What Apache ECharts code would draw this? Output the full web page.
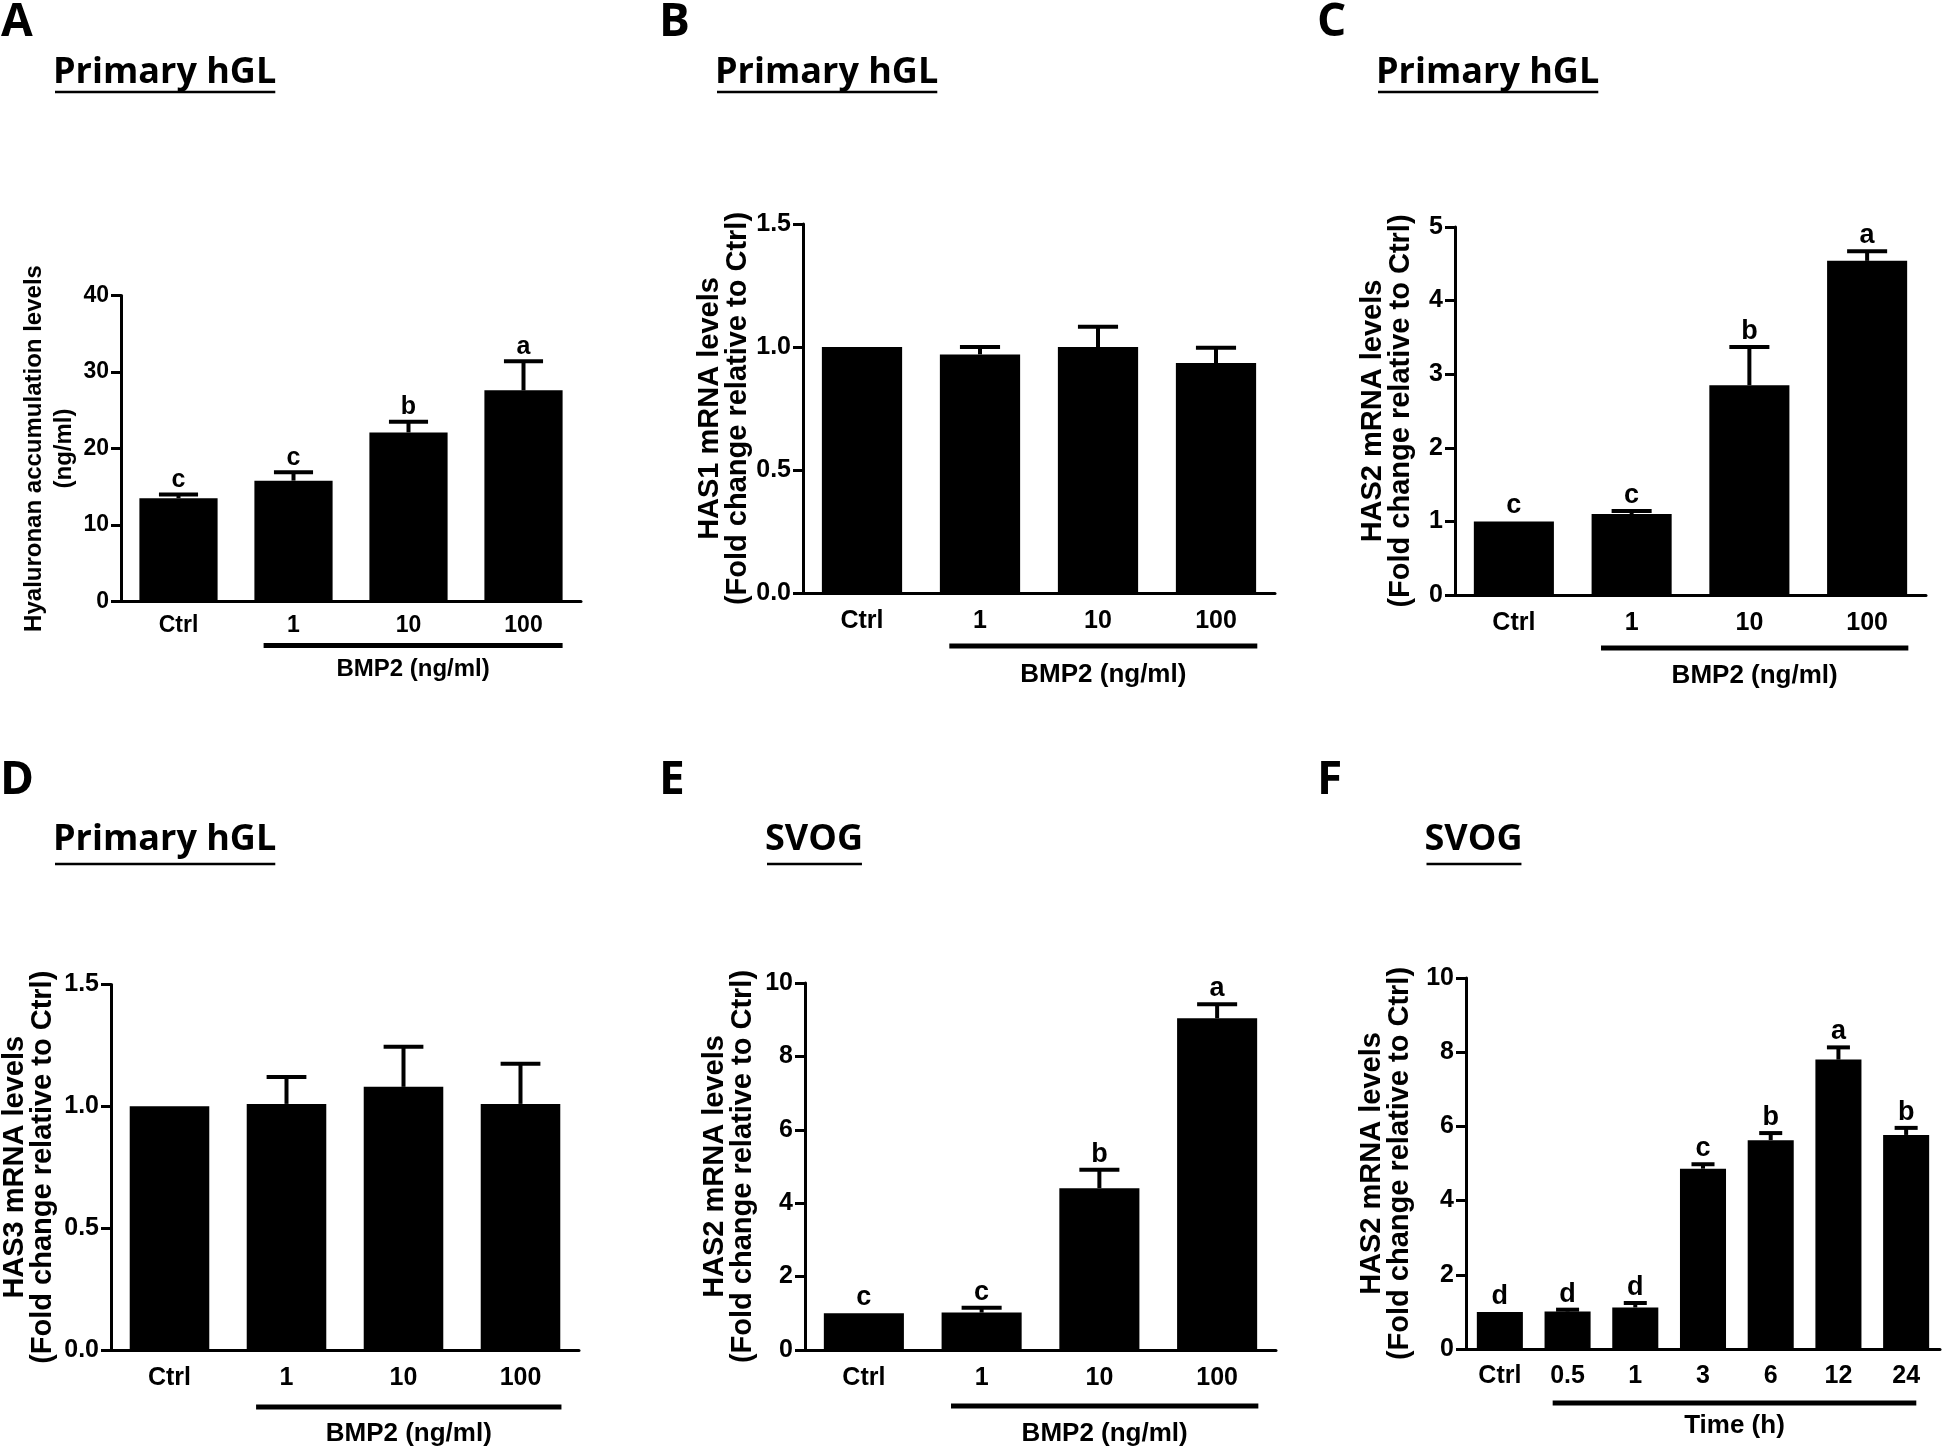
<!DOCTYPE html>
<html>
<head>
<meta charset="utf-8">
<script src="https://cdn.jsdelivr.net/npm/echarts@6/dist/echarts.min.js"></script>
<style>
html, body { margin: 0; padding: 0; background: #fff; }
#chart { width: 1944px; height: 1453px; }
</style>
</head>
<body>
<div id="chart"></div>
<script>
// categories
var bmpCats = ['Ctrl', '1', '10', '100'];
var timeCats = ['Ctrl', '0.5', '1', '3', '6', '12', '24'];

// A: hyaluronan accumulation (ng/ml)
var hyaMean = [13.5, 15.8, 22.1, 27.6];
var hyaSem = [0.5, 1.1, 1.4, 3.8];
var hyaLetters = ['c', 'c', 'b', 'a'];

// B: HAS1 mRNA
var has1Mean = [1.0, 0.97, 1.0, 0.935];
var has1Sem = [0, 0.03, 0.082, 0.062];

// C: HAS2 mRNA (hGL)
var has2Mean = [1.0, 1.10, 2.85, 4.54];
var has2Sem = [0, 0.04, 0.52, 0.13];
var has2Letters = ['c', 'c', 'b', 'a'];

// D: HAS3 mRNA
var has3Mean = [1.0, 1.01, 1.08, 1.01];
var has3Sem = [0, 0.11, 0.165, 0.165];

// E: HAS2 mRNA (SVOG, dose)
var svogDoseMean = [1.0, 1.02, 4.41, 9.04];
var svogDoseSem = [0, 0.13, 0.5, 0.38];
var svogDoseLetters = ['c', 'c', 'b', 'a'];

// F: HAS2 mRNA (SVOG, time)
var svogTimeMean = [1.0, 1.01, 1.12, 4.86, 5.63, 7.80, 5.77];
var svogTimeSem = [0, 0.05, 0.12, 0.12, 0.19, 0.33, 0.19];
var svogTimeLetters = ['d', 'd', 'd', 'c', 'b', 'a', 'b'];

var tickFont = 'Liberation Sans';
var nameFont = 'Liberation Sans';
var titleFont = 'Open Sans';

var panels = [
	{ letter: 'A', title: 'Primary hGL', cats: bmpCats, mean: hyaMean, sem: hyaSem, marks: hyaLetters,
	  max: 40, step: 10, dec: 0, grid: { left: 121, top: 295.5, width: 460, height: 306 },
	  yName: 'Hyaluronan accumulation levels\n(ng/ml)', nameSize: 24, lineH: 30, nameGap: 40,
	  fs: 23, labelGap: 13, row: 0, letterX: 1, titleX: 53, group: 'BMP2 (ng/ml)', barFrom: -0.26, barTo: 0.34, barDy: 44, groupDy: 24 },
	{ letter: 'B', title: 'Primary hGL', cats: bmpCats, mean: has1Mean, sem: has1Sem, marks: null,
	  max: 1.5, step: 0.5, dec: 1, grid: { left: 803, top: 224, width: 472, height: 369 },
	  yName: 'HAS1 mRNA levels\n(Fold change relative to Ctrl)', nameSize: 29, lineH: 28, nameGap: 48,
	  fs: 25, labelGap: 16, row: 0, letterX: 659, titleX: 715, group: 'BMP2 (ng/ml)', barFrom: -0.26, barTo: 0.35, barDy: 53, groupDy: 29 },
	{ letter: 'C', title: 'Primary hGL', cats: bmpCats, mean: has2Mean, sem: has2Sem, marks: has2Letters,
	  max: 5, step: 1, dec: 0, grid: { left: 1455, top: 227, width: 471, height: 368 },
	  yName: 'HAS2 mRNA levels\n(Fold change relative to Ctrl)', nameSize: 29, lineH: 28, nameGap: 40,
	  fs: 25, labelGap: 16, row: 0, letterX: 1317, titleX: 1376, group: 'BMP2 (ng/ml)', barFrom: -0.26, barTo: 0.35, barDy: 53, groupDy: 28 },
	{ letter: 'D', title: 'Primary hGL', cats: bmpCats, mean: has3Mean, sem: has3Sem, marks: null,
	  max: 1.5, step: 0.5, dec: 1, grid: { left: 111, top: 984.5, width: 468, height: 365.5 },
	  yName: 'HAS3 mRNA levels\n(Fold change relative to Ctrl)', nameSize: 29, lineH: 28, nameGap: 54,
	  fs: 25, labelGap: 16, row: 1, letterX: 0, titleX: 53, group: 'BMP2 (ng/ml)', barFrom: -0.26, barTo: 0.35, barDy: 57, groupDy: 27 },
	{ letter: 'E', title: 'SVOG', cats: bmpCats, mean: svogDoseMean, sem: svogDoseSem, marks: svogDoseLetters,
	  max: 10, step: 2, dec: 0, grid: { left: 805, top: 983, width: 471, height: 367 },
	  yName: 'HAS2 mRNA levels\n(Fold change relative to Ctrl)', nameSize: 29, lineH: 28, nameGap: 48,
	  fs: 25, labelGap: 16, row: 1, letterX: 659, titleX: 765, group: 'BMP2 (ng/ml)', barFrom: -0.26, barTo: 0.35, barDy: 56, groupDy: 28 },
	{ letter: 'F', title: 'SVOG', cats: timeCats, mean: svogTimeMean, sem: svogTimeSem, marks: svogTimeLetters,
	  max: 10, step: 2, dec: 0, grid: { left: 1466, top: 978, width: 474, height: 371 },
	  yName: 'HAS2 mRNA levels\n(Fold change relative to Ctrl)', nameSize: 29, lineH: 28, nameGap: 52,
	  fs: 25, labelGap: 15, row: 1, letterX: 1317, titleX: 1424.5, group: 'Time (h)', barFrom: -0.22, barTo: 0.15, barDy: 54, groupDy: 23 }
];

var rowTitleY = [73, 840];
var rowLineY = [92, 864];
var rowLetterY = [22.5, 781];

var black = '#000';
var grids = [], xAxes = [], yAxes = [], series = [], graphics = [];

panels.forEach(function(p, i) {
	grids.push({ left: p.grid.left, top: p.grid.top, width: p.grid.width, height: p.grid.height, outerBoundsMode: 'none' });
	xAxes.push({
		type: 'category',
		gridIndex: i,
		data: p.cats,
		boundaryGap: true,
		axisLine: { lineStyle: { color: black, width: 3 } },
		axisTick: { alignWithLabel: true, length: 8, lineStyle: { color: black, width: 3 } },
		axisLabel: { interval: 0, margin: p.labelGap, color: black, fontFamily: tickFont, fontWeight: 'bold', fontSize: p.fs },
		splitLine: { show: false }
	});
	yAxes.push({
		type: 'value',
		gridIndex: i,
		min: 0,
		max: p.max,
		interval: p.step,
		axisLine: { show: true, lineStyle: { color: black, width: 3 } },
		axisTick: { show: true, length: 10, lineStyle: { color: black, width: 3 } },
		axisLabel: {
			margin: 12, color: black, fontFamily: tickFont, fontWeight: 'bold', fontSize: p.fs,
			formatter: (function(dec) { return function(v) { return v.toFixed(dec); }; })(p.dec)
		},
		splitLine: { show: false },
		name: p.yName,
		nameLocation: 'middle',
		nameRotate: 90,
		nameGap: p.nameGap,
		nameTextStyle: { color: black, fontFamily: nameFont, fontWeight: 'bold', fontSize: p.nameSize, lineHeight: p.lineH }
	});
	series.push({
		type: 'bar',
		xAxisIndex: i,
		yAxisIndex: i,
		data: p.mean,
		barWidth: '68%',
		itemStyle: { color: black },
		silent: true
	});
	// 误差线 + 显著性字母
	var marks = p.marks;
	var fs = p.fs;
	series.push({
		type: 'custom',
		xAxisIndex: i,
		yAxisIndex: i,
		encode: { x: 0, y: 1 },
		silent: true,
		z: 3,
		data: p.mean.map(function(m, j) { return [j, m, p.sem[j]]; }),
		renderItem: function(params, api) {
			var j = api.value(0), m = api.value(1), e = api.value(2);
			var base = api.coord([j, m]);
			var top = api.coord([j, m + e]);
			var bw = api.size([1, 0])[0] * 0.68;
			var cap = bw * 0.5;
			var children = [];
			if (e > 0) {
				children.push({ type: 'line', shape: { x1: base[0], y1: base[1], x2: top[0], y2: top[1] }, style: { stroke: black, lineWidth: 4 } });
				children.push({ type: 'line', shape: { x1: top[0] - cap / 2, y1: top[1], x2: top[0] + cap / 2, y2: top[1] }, style: { stroke: black, lineWidth: 4 } });
			}
			if (marks) {
				children.push({
					type: 'text',
					style: {
						text: marks[params.dataIndex], x: top[0], y: top[1] - 2,
						textAlign: 'center', textVerticalAlign: 'bottom',
						font: 'bold ' + (fs + 2) + 'px "' + tickFont + '"', fill: black
					}
				});
			}
			return { type: 'group', children: children };
		}
	});

	// 标题和面板字母
	graphics.push({
		type: 'text', x: p.letterX, y: rowLetterY[p.row],
		style: { text: p.letter, font: 'bold 46px "' + titleFont + '"', fill: black, textVerticalAlign: 'middle' }
	});
	var ctx = document.createElement('canvas').getContext('2d');
	ctx.font = 'bold 36px "' + titleFont + '"';
	var tw = ctx.measureText(p.title).width;
	graphics.push({
		type: 'text', x: p.titleX, y: rowTitleY[p.row],
		style: { text: p.title, font: 'bold 36px "' + titleFont + '"', fill: black, textVerticalAlign: 'middle' }
	});
	graphics.push({
		type: 'line', shape: { x1: p.titleX + 2, y1: rowLineY[p.row], x2: p.titleX + tw - 1, y2: rowLineY[p.row] },
		style: { stroke: black, lineWidth: 2.7 }
	});
});

var chart = echarts.init(document.getElementById('chart'));
chart.setOption({
	animation: false,
	backgroundColor: '#fff',
	grid: grids,
	xAxis: xAxes,
	yAxis: yAxes,
	series: series
});

// 下方的分组横线和文字
panels.forEach(function(p, i) {
	var n = p.cats.length;
	var c1 = chart.convertToPixel({ gridIndex: i }, [1, 0]);
	var c0 = chart.convertToPixel({ gridIndex: i }, [0, 0]);
	var cl = chart.convertToPixel({ gridIndex: i }, [n - 1, 0]);
	var band = c1[0] - c0[0];
	var x1 = c1[0] + p.barFrom * band;
	var x2 = cl[0] + p.barTo * band;
	var y = c0[1] + p.barDy;
	graphics.push({ type: 'line', shape: { x1: x1, y1: y, x2: x2, y2: y }, style: { stroke: black, lineWidth: 5 } });
	graphics.push({
		type: 'text', x: (x1 + x2) / 2, y: y + p.groupDy,
		style: { text: p.group, font: 'bold ' + (p.fs + 1) + 'px "' + tickFont + '"', fill: black, textAlign: 'center', textVerticalAlign: 'middle' }
	});
});
chart.setOption({ graphic: graphics });
</script>
</body>
</html>
